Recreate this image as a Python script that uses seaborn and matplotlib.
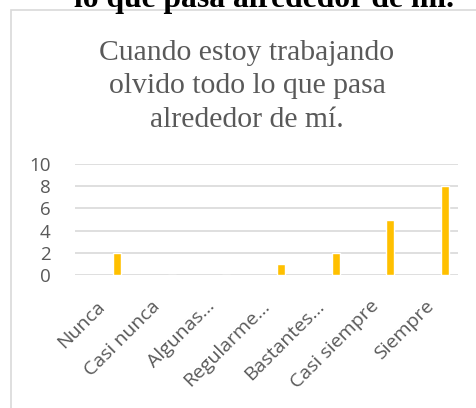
import matplotlib
matplotlib.use("Agg")
import matplotlib.pyplot as plt
from matplotlib.patches import Rectangle
import numpy as np
import pandas as pd
import seaborn as sns

categorias = ["Nunca", "Casi nunca", "Algunas…", "Regularme…", "Bastantes…", "Casi siempre", "Siempre"]
valores = [2, 0, 0, 1, 2, 5, 8]
yticks = [0, 2, 4, 6, 8, 10]
titulo = "Cuando estoy trabajando\nolvido todo lo que pasa\nalrededor de mí."
encabezado = "lo que pasa alrededor de mí."

sns.set_style("white")
plt.rcParams["font.family"] = ["Open Sans", "DejaVu Sans"]

W, H = 476, 408
fig = plt.figure(figsize=(W / 100, H / 100), dpi=100)
ax = fig.add_axes([75 / W, 1 - 275 / H, (458 - 75) / W, (275 - 164) / H])

df = pd.DataFrame({"cat": categorias, "val": valores})
sns.barplot(data=df, x="cat", y="val", color="#FFC000", saturation=1,
            width=0.146, ax=ax, zorder=3)

# bars sit right of the category centre (excel series offset)
off = 0.38
ax.set_xlim(-0.767, 6.234)
ax.set_xticks(np.arange(len(categorias)) - off)
ax.set_xticklabels(categorias, rotation=45, ha="right", va="top",
                   rotation_mode="anchor", fontsize=14, color="#595959")
ax.set_ylim(0, 10)
ax.set_yticks(yticks)
ax.set_yticklabels([str(v) for v in yticks], fontsize=13.5, color="#595959")
ax.tick_params(axis="y", length=0, pad=17.5)
ax.tick_params(axis="x", length=0, pad=16)
ax.grid(axis="y", color="#D9D9D9", linewidth=1.2, zorder=0)
ax.set_axisbelow(True)
for s in ax.spines.values():
    s.set_visible(False)
ax.set_xlabel("")
ax.set_ylabel("")

fig.text(247 / W, 1 - 39.5 / H, titulo, ha="center", va="top", fontsize=21.3,
         family="Liberation Serif", color="#595959", linespacing=1.38)
fig.text(264 / W, 1 - 7.5 / H, encabezado, ha="center", va="baseline", fontsize=22.8,
         family="Liberation Serif", weight="bold", color="black")

fig.add_artist(Rectangle((11 / W, -0.1), 1.2, 1.1 - 10 / H, transform=fig.transFigure,
                         fill=False, edgecolor="#D9D9D9", linewidth=1.2))

fig.savefig("out.png", dpi=100)
